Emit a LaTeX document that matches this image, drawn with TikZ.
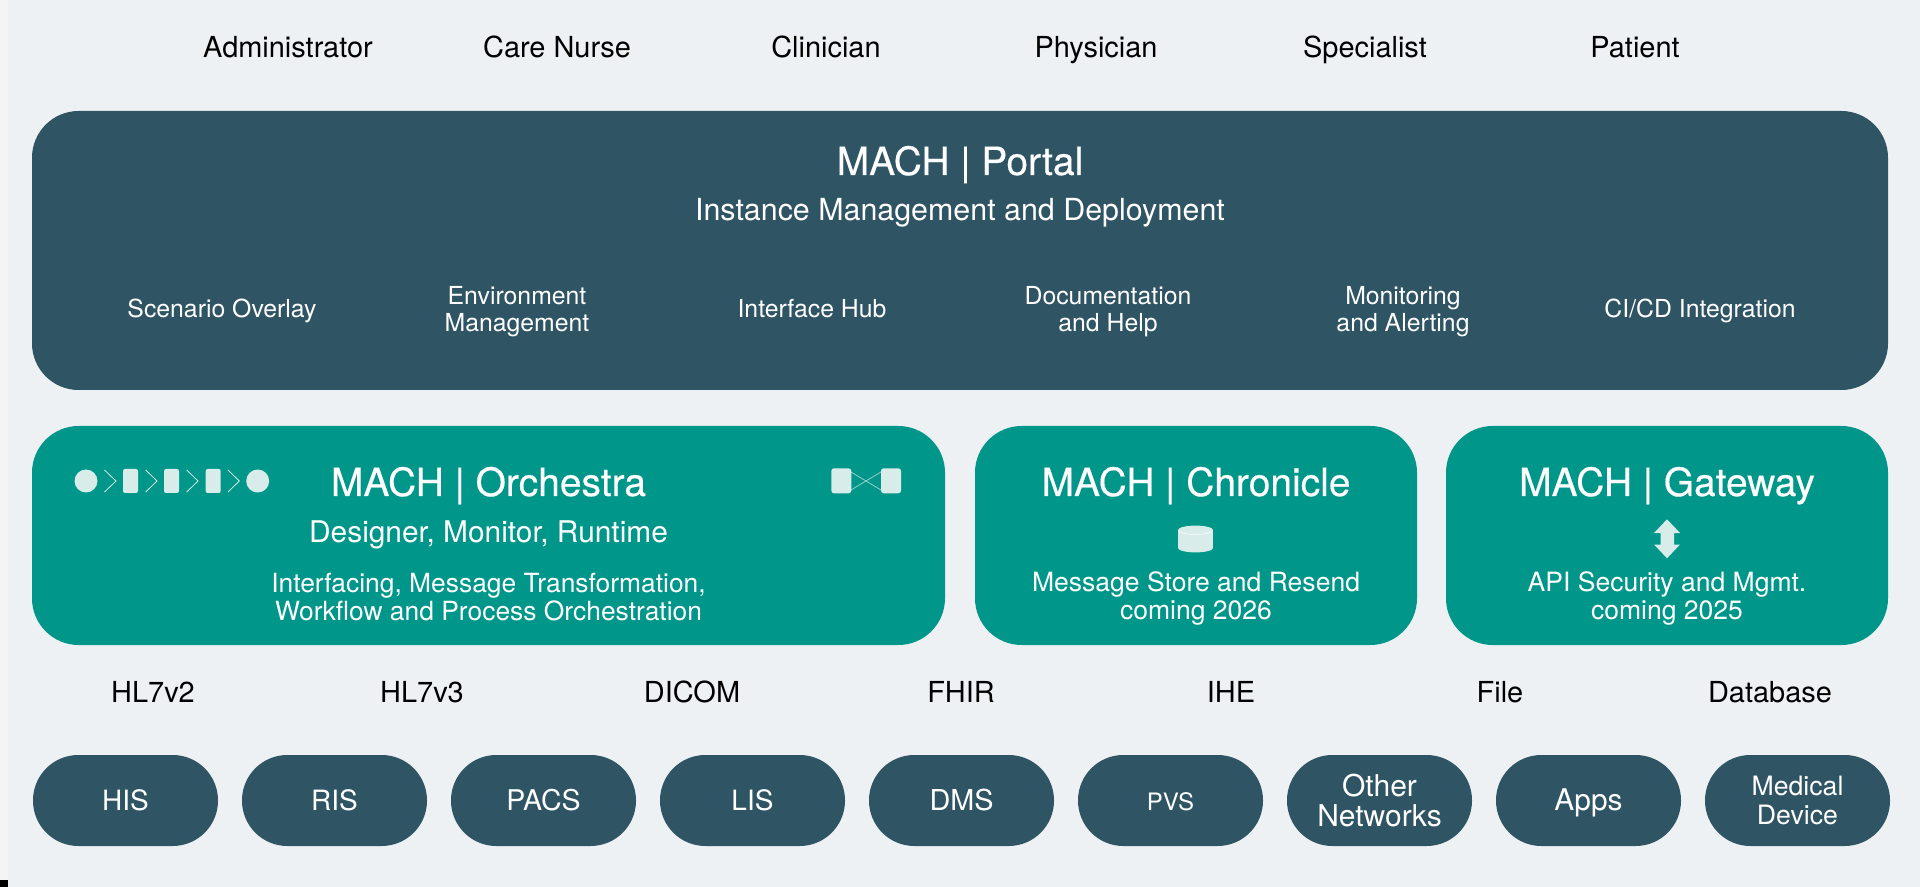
\documentclass[tikz,border=0pt]{standalone}
\usepackage{fontspec}
\setmainfont{TeX Gyre Heros}
\newfontfamily\titlefont[FakeBold=0.4]{TeX Gyre Heros}
\usetikzlibrary{shapes.geometric}
\definecolor{bgc}{HTML}{EDF1F4}
\definecolor{stripc}{HTML}{F3F4F6}
\definecolor{darkc}{HTML}{2F5464}
\definecolor{tealc}{HTML}{00968A}
\definecolor{iconc}{HTML}{D8ECE9}
\definecolor{linkc}{HTML}{8FD0C9}
\newcommand{\sz}[1]{\fontsize{#1pt}{#1pt}\selectfont}
\tikzset{
  x=0.75pt,y=-0.75pt,
  panel/.style={fill=#1,draw=none,rounded corners=35pt,inner sep=0pt},
  pill/.style={fill=darkc,draw=none,rounded corners=34pt,inner sep=0pt,minimum width=138.75pt,minimum height=68.25pt,text=white,align=center,font=\fontsize{20pt}{21.4pt}\selectfont},
  single/.style={text height=15pt,text depth=0pt},
  toplabel/.style={inner sep=0pt,text=black,font=\fontsize{21.7pt}{24pt}\selectfont,text height=15.6pt,text depth=0pt},
  title/.style={inner sep=0pt,text=white,font=\titlefont\fontsize{29.2pt}{32pt}\selectfont,text height=21pt,text depth=0pt},
  subtitle/.style={inner sep=0pt,text=white,font=\fontsize{22.8pt}{26pt}\selectfont,text height=16.4pt,text depth=0pt},
  body/.style={inner sep=0pt,text=white,align=center,font=\fontsize{19.9pt}{20.4pt}\selectfont},
  item/.style={inner sep=0pt,text=white,align=center,font=\fontsize{18.6pt}{20.4pt}\selectfont},
  itemone/.style={inner sep=0pt,text=white,font=\fontsize{18.6pt}{20.4pt}\selectfont,text height=13.4pt,text depth=0pt},
  iconfill/.style={fill=iconc,draw=none},
  chev/.style={draw=iconc,line width=0.6pt},
  link/.style={draw=linkc,line width=0.6pt},
}
\begin{document}
\begin{tikzpicture}
\useasboundingbox (0,0) rectangle (1920,887);
\fill[bgc] (0,0) rectangle (1920,887);
\fill[stripc] (0,0) rectangle (8,887);
\fill[black] (0,880) rectangle (8,887);
% top roles
\node[toplabel] (r1) at (288,47) {Administrator};
\node[toplabel] (r2) at (557,47) {Care Nurse};
\node[toplabel] (r3) at (826,47) {Clinician};
\node[toplabel] (r4) at (1096,47) {Physician};
\node[toplabel] (r5) at (1365,47) {Specialist};
\node[toplabel] (r6) at (1635,47) {Patient};
% portal
\node[panel=darkc,minimum width=1392pt,minimum height=209.25pt] (portal) at (960,250.5) {};
\node[title] (ptitle) at (960,161) {MACH | Portal};
\node[subtitle] (psub) at (960,210) {Instance Management and Deployment};
\node[itemone] (p1) at (222,309) {Scenario Overlay};
\node[item] (p2) at (517,311.5) {Environment\\Management};
\node[itemone] (p3) at (812,309) {Interface Hub};
\node[item] (p4) at (1108,311.5) {Documentation\\and Help};
\node[item] (p5) at (1403,311.5) {Monitoring\\and Alerting};
\node[itemone] (p6) at (1700,309) {CI/CD Integration};
% orchestra
\node[panel=tealc,minimum width=684.75pt,minimum height=164.25pt] (orch) at (488.5,535.5) {};
\node[title] (otitle) at (488.5,482) {MACH | Orchestra};
\node[subtitle,font=\fontsize{22.4pt}{26pt}\selectfont] (osub) at (488.5,532) {Designer, Monitor, Runtime};
\node[body,font=\fontsize{19.8pt}{20.4pt}\selectfont] (obody) at (488.5,597) {Interfacing, Message Transformation,\\Workflow and Process Orchestration};
% orchestra icons
\fill[iconfill] (86,481) circle (11.5);
\draw[chev] (104.5,470) -- (116,481) -- (104.5,492);
\fill[iconfill,rounded corners=1.5pt] (123,469) rectangle (138,493);
\draw[chev] (145.7,470) -- (157,481) -- (145.7,492);
\fill[iconfill,rounded corners=1.5pt] (164,469) rectangle (179,493);
\draw[chev] (186.7,470) -- (198,481) -- (186.7,492);
\fill[iconfill,rounded corners=1.5pt] (205.7,469) rectangle (220.7,493);
\draw[chev] (228,470) -- (239.3,481) -- (228,492);
\fill[iconfill] (257.7,481) circle (11.5);
\draw[link] (851,472) -- (881,490);
\draw[link] (851,490) -- (881,472);
\fill[iconfill,rounded corners=2pt] (831.3,468.3) rectangle (851.3,493.3);
\fill[iconfill,rounded corners=2pt] (881,468.3) rectangle (901,493.3);
% chronicle
\node[panel=tealc,minimum width=331.5pt,minimum height=164.25pt] (chron) at (1196,535.5) {};
\node[title] (ctitle) at (1196,482) {MACH | Chronicle};
\node[body] (cbody) at (1196,598.5) {Message Store and Resend\\coming 2026};
\fill[iconfill] (1178,530) rectangle (1213,548);
\fill[iconfill] (1195.5,530) ellipse [x radius=13.1pt,y radius=3.3pt];
\fill[iconfill] (1195.5,548) ellipse [x radius=13.1pt,y radius=3.3pt];
\draw[white,line width=0.4pt] (1178,530) arc[start angle=180,end angle=360,x radius=13.1pt,y radius=3.3pt];
% gateway
\node[panel=tealc,minimum width=331.5pt,minimum height=164.25pt] (gate) at (1667,535.5) {};
\node[title] (gtitle) at (1667,482) {MACH | Gateway};
\node[body] (gbody) at (1667,598.5) {API Security and Mgmt.\\coming 2025};
\fill[iconfill] (1667,519.3) -- (1680,533) -- (1674,533) -- (1674,544.5) -- (1680,544.5) -- (1667,558.3) -- (1654,544.5) -- (1660.5,544.5) -- (1660.5,533) -- (1654,533) -- cycle;
% protocols
\node[toplabel] (s1) at (153,692) {HL7v2};
\node[toplabel] (s2) at (422,692) {HL7v3};
\node[toplabel] (s3) at (692,692) {DICOM};
\node[toplabel] (s4) at (961,692) {FHIR};
\node[toplabel] (s5) at (1231,692) {IHE};
\node[toplabel] (s6) at (1500,692) {File};
\node[toplabel] (s7) at (1770,692) {Database};
% pills
\node[pill,single,font=\sz{21}] (h1) at (125.5,800.5) {HIS};
\node[pill,single,font=\sz{21}] (h2) at (334.5,800.5) {RIS};
\node[pill,single,font=\sz{21.4}] (h3) at (543.5,800.5) {PACS};
\node[pill,single,font=\sz{21}] (h4) at (752.5,800.5) {LIS};
\node[pill,single,font=\sz{21.6}] (h5) at (961.5,800.5) {DMS};
\node[pill,single,font=\sz{18}] (h6) at (1170.5,800.5) {PVS};
\node[pill,font=\fontsize{22.5pt}{22pt}\selectfont] (h7) at (1379.5,800.5) {Other\\Networks};
\node[pill,single,font=\sz{22.4}] (h8) at (1588.5,800.5) {Apps};
\node[pill] (h9) at (1797.5,800.5) {Medical\\Device};
\end{tikzpicture}
\end{document}
